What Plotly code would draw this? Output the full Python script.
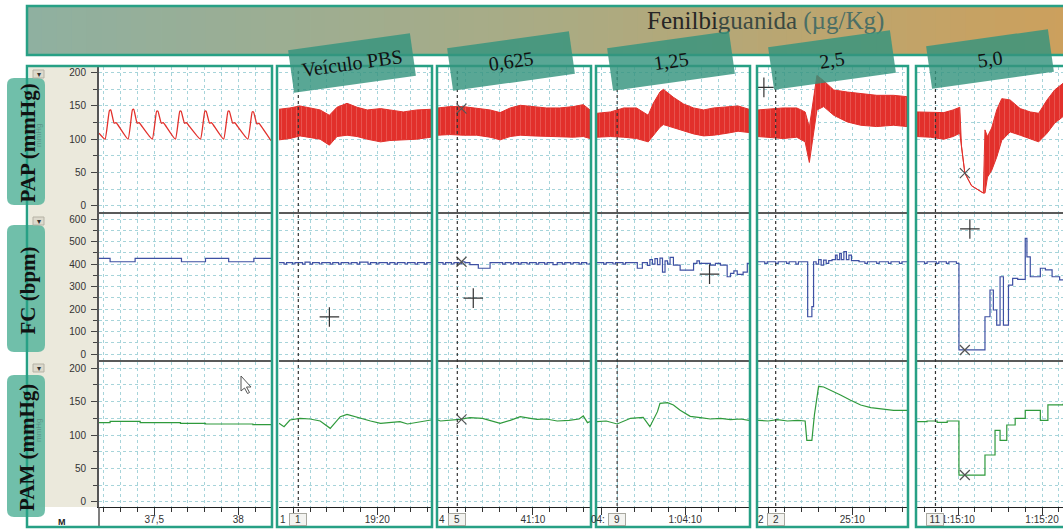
import plotly.graph_objects as go

W, H = 1063, 529

# ---------------- baseline column (time in s) ----------------
PAP0_T = [37.171, 37.207, 37.233, 37.241, 37.261, 37.273, 37.285,
          37.344, 37.370, 37.378, 37.398, 37.410, 37.422,
          37.488, 37.514, 37.522, 37.542, 37.554, 37.566,
          37.626, 37.652, 37.660, 37.680, 37.692, 37.704,
          37.775, 37.801, 37.809, 37.829, 37.841, 37.853,
          37.913, 37.939, 37.947, 37.967, 37.979, 37.991,
          38.057, 38.083, 38.091, 38.111, 38.123, 38.135, 38.195]
PAP0_V = [109, 100, 143, 144, 124, 125, 121,
          100, 144, 145, 124, 125, 121,
          100, 142, 142, 124, 125, 121,
          100, 142, 142, 124, 125, 121,
          100, 142, 142, 124, 125, 121,
          100, 142, 142, 124, 125, 121,
          100, 141, 141, 123, 124, 120, 98]
FC0_T = [37.171, 37.237, 37.386, 37.662, 37.805, 37.943, 38.093, 38.195]
FC0_V = [426, 411, 426, 411, 426, 411, 426, 426]
PAM0_T = [37.171, 37.237, 37.386, 37.416, 37.656, 37.805, 38.087, 38.195]
PAM0_V = [118.5, 120.5, 120.5, 118.5, 117.5, 116.5, 115.5, 115.5]

# ---------------- PAP envelopes (upper / lower) ----------------
PAP1_T = [1148.3, 1149.6, 1150.8, 1152.0, 1153.2, 1154.3, 1155.2, 1156.4, 1157.6, 1158.8, 1160.4, 1161.5, 1163.1, 1164.7, 1166.4]
PAP1_HI = [145, 147, 150, 147, 144, 136, 148, 154, 148, 144, 146, 144, 141, 144, 145]
PAP1_LO = [99, 101, 105, 103, 100, 91, 104, 106, 104, 100, 96, 98, 99, 100, 103]

PAP2_T = [2458.7, 2460.1, 2461.7, 2463.3, 2464.9, 2466.1, 2467.3, 2468.5, 2470.0, 2471.6, 2473.2, 2474.8, 2476.0, 2476.8]
PAP2_HI = [147, 149, 149, 147, 144, 140, 147, 151, 149, 147, 147, 149, 152, 144]
PAP2_LO = [106, 107, 106, 106, 103, 99, 104, 106, 105, 104, 103, 103, 104, 101]

PAP3_T = [3839.5, 3841.1, 3842.7, 3844.2, 3845.6, 3846.2, 3847.0, 3847.4, 3848.6, 3849.8, 3851.0, 3852.2, 3853.4, 3855.0, 3856.3, 3857.6]
PAP3_HI = [139, 141, 147, 147, 136, 154, 171, 175, 163, 153, 147, 144, 147, 149, 150, 145]
PAP3_LO = [103, 104, 103, 101, 96, 106, 118, 122, 117, 112, 108, 105, 106, 109, 112, 110]

PAP4_T = [1498.8, 1500.2, 1501.8, 1503.4, 1504.4, 1504.9, 1505.3, 1505.8, 1506.6, 1507.8, 1509.4, 1511.0, 1512.9, 1514.9, 1516.5]
PAP4_HI = [144, 145, 147, 147, 141, 118, 154, 196, 188, 174, 171, 169, 166, 166, 164]
PAP4_LO = [104, 103, 101, 103, 96, 65, 104, 144, 149, 136, 126, 121, 119, 121, 119]

PAP5_T = [4505.1, 4506.7, 4508.3, 4509.4, 4510.2, 4510.4, 4510.8, 4511.6, 4513.0, 4513.2, 4513.5, 4514.0, 4514.6, 4515.2, 4516.2, 4517.4, 4518.6, 4519.6, 4520.6, 4521.5, 4522.5]
PAP5_HI = [141, 140, 140, 144, 148, 90, 49, 30, 19, 114, 104, 117, 144, 161, 159, 146, 141, 139, 159, 174, 184]
PAP5_LO = [104, 103, 100, 104, 109, 90, 49, 30, 19, 19, 43, 53, 73, 98, 111, 106, 101, 96, 109, 124, 134]

# ---------------- FC (bpm), step traces ----------------
FC1_T = [1148.3, 1148.9, 1149.2, 1149.9, 1150.2, 1151.1, 1151.4, 1152.0, 1152.3, 1153.1, 1153.4, 1154.4,
         1154.7, 1155.4, 1155.7, 1156.6, 1156.9, 1157.6, 1157.9, 1158.9, 1159.2, 1159.9, 1160.2, 1161.2,
         1161.5, 1162.1, 1162.4, 1163.3, 1163.6, 1164.5, 1164.8, 1165.6, 1165.9, 1166.4]
FC1_V = [407, 400, 407, 401, 407, 400, 409, 400, 407, 401, 407, 400,
         407, 400, 407, 401, 407, 400, 409, 400, 407, 401, 407, 400,
         407, 400, 407, 401, 407, 400, 407, 400, 407, 407]

FC2_T = [2458.7, 2459.3, 2459.6, 2460.3, 2460.6, 2461.2, 2461.5, 2461.9, 2462.5, 2463.5, 2464.9, 2466.4,
         2466.7, 2467.4, 2467.7, 2468.3, 2468.6, 2469.3, 2469.6, 2470.4, 2470.7, 2471.4, 2471.7, 2472.4,
         2472.9, 2473.5, 2473.8, 2474.5, 2474.8, 2475.5, 2475.8, 2476.4, 2476.8]
FC2_V = [407, 400, 407, 401, 407, 401, 411, 407, 398, 382, 407, 400,
         407, 401, 407, 400, 407, 401, 407, 400, 407, 400, 407, 398,
         407, 400, 407, 401, 407, 400, 407, 401, 407]

FC3_T = [3839.5, 3840.3, 3840.6, 3841.4, 3841.7, 3842.6, 3842.9, 3844.3, 3844.9, 3845.5, 3845.8, 3846.1,
         3846.4, 3846.7, 3847.0, 3847.3, 3847.6, 3847.9, 3848.2, 3848.6, 3849.4, 3851.0, 3851.4, 3851.7,
         3853.0, 3853.6, 3854.2, 3855.0, 3855.4, 3855.8, 3856.2, 3856.9, 3857.4, 3857.6]
FC3_V = [407, 400, 407, 401, 407, 400, 407, 382, 407, 395, 420, 400,
         425, 398, 427, 365, 415, 400, 430, 396, 374, 404, 415, 404,
         396, 404, 396, 344, 359, 370, 355, 365, 404, 404]

FC4_T = [1498.8, 1499.6, 1499.9, 1500.9, 1501.2, 1502.2, 1502.5, 1503.3, 1503.6, 1504.7, 1505.2, 1505.4,
         1505.7, 1506.0, 1506.3, 1506.6, 1506.9, 1507.2, 1507.6, 1508.0, 1508.2, 1508.5, 1508.7, 1509.0,
         1509.3, 1509.6, 1509.9, 1510.8, 1511.5, 1511.8, 1512.9, 1513.2, 1514.3, 1514.6, 1515.6, 1515.9, 1516.5]
FC4_V = [411, 404, 411, 404, 411, 404, 411, 400, 411, 166, 211, 411,
         400, 420, 396, 418, 404, 416, 420, 440, 420, 448, 420, 456,
         420, 440, 416, 411, 404, 411, 404, 411, 404, 411, 404, 411, 411]

FC5_T = [4505.1, 4506.0, 4506.3, 4507.4, 4507.7, 4508.6, 4508.9, 4509.8, 4510.1, 4513.2, 4513.8, 4514.2,
         4514.6, 4515.0, 4515.4, 4516.0, 4516.5, 4517.1, 4518.0, 4518.2, 4518.6, 4519.8, 4520.4, 4521.2,
         4522.1, 4522.5]
FC5_V = [411, 404, 411, 404, 411, 404, 411, 404, 18, 166, 285, 196,
         129, 344, 129, 307, 337, 332, 515, 433, 344, 382, 375, 344,
         330, 330]

# ---------------- PAM (mmHg) ----------------
PAM1_T = [1148.3, 1148.9, 1149.6, 1150.8, 1152.0, 1153.2, 1154.4, 1155.6, 1156.4, 1157.2, 1158.0, 1159.2,
          1160.4, 1161.5, 1162.7, 1163.6, 1164.9, 1166.4]
PAM1_V = [117.5, 112.5, 122.5, 125, 124, 121, 110, 127.5, 131, 128, 125, 121,
          117.5, 119, 120, 116.5, 119, 122.5]
PAM2_T = [2458.7, 2459.0, 2461.3, 2462.5, 2464.0, 2465.0, 2466.1, 2467.3, 2468.5, 2469.7, 2470.5, 2471.6,
          2472.9, 2474.3, 2475.5, 2476.0, 2476.5, 2476.8]
PAM2_V = [122.5, 121, 123.5, 126, 125, 121, 117.5, 122, 127.5, 125, 123.5, 124,
          121, 122, 124, 128.5, 118.5, 120]
PAM3_T = [3839.5, 3840.6, 3841.9, 3843.5, 3845.0, 3845.8, 3846.7, 3847.0, 3847.9, 3848.6, 3849.4, 3850.6,
          3851.8, 3853.0, 3854.2, 3855.4, 3856.6, 3857.6]
PAM3_V = [120, 121, 116.5, 125, 126.5, 112.5, 135, 147.5, 148.5, 145, 137, 128,
          126, 124, 125, 123, 124, 122]
PAM4_T = [1498.8, 1500.0, 1501.1, 1502.3, 1503.5, 1504.4, 1504.6, 1505.2, 1505.5, 1505.8, 1506.0, 1506.6,
          1507.7, 1508.6, 1509.8, 1511.0, 1512.2, 1513.4, 1514.9, 1516.5]
PAM4_V = [122, 121, 123, 121, 122, 121, 92, 92, 130, 160, 173, 172,
          166, 160, 152, 145, 141, 139, 137, 137]
PAM5_T = [4505.1, 4506.3, 4507.5, 4508.7, 4510.1, 4513.2, 4514.4, 4515.0, 4515.8, 4516.8, 4518.0, 4519.8,
          4520.7, 4522.5]
PAM5_V = [120, 121, 119, 121, 40, 70, 107, 92, 115, 125, 137, 122, 145, 147]

# ---------------- labels, ticks, events ----------------
DOSES = ["Veículo PBS", "0,625", "1,25", "2,5", "5,0"]
ROW_TITLES = ["PAP (mmHg)", "FC (bpm)", "PAM (mmHg)"]
TICK_T = [None, [1150, 1160], [2460, 2470], [3840, 3850], [1500, 1510], [4510, 4520]]
TICK_TXT = [None, ["", "19:20"], ["", "41:10"], ["", "1:04:10"], ["", "25:10"], ["1:15:10", "1:15:20"]]
EVENT_T = [None, 1150.6, 2461.0, 3841.9, 1500.9, 4507.3]
EVENT_ID = [None, "1", "5", "9", "2", "11"]
EVENT_PREFIX = [None, "1", "4", "04:", "2", ""]
# cursor marks: (column, row, time, value)
PLUS_MARKS = [(1, 1, 1154.3, 165), (2, 1, 2462.9, 249), (3, 1, 3852.9, 356),
              (4, 0, 1499.5, 178), (5, 1, 4511.4, 557)]
X_MARKS = [(2, 0, 2461.5, 146), (2, 1, 2461.5, 411), (2, 2, 2461.5, 123.5),
           (5, 0, 4510.8, 49), (5, 1, 4510.8, 18), (5, 2, 4510.8, 40)]

# ---------------- geometry (pixels) ----------------
COL_PX = [(99, 271), (279, 431), (438, 590), (597, 749), (758, 907), (917, 1063)]
COL_T = [(37.171, 38.195), (1148.3, 1166.4), (2458.7, 2476.8), (3839.5, 3857.6),
         (1498.8, 1516.5), (4505.1, 4522.5)]
ROW_PX = [(67, 212), (214, 360), (362, 507)]
ROW_V = [(-9.5, 208.6), (-26.7, 623.6), (-7.9, 209.4)]
ROW_DTICK = [(50, 25), (100, 50), (50, 25)]
BOX_PX = [(27, 66, 272, 527), (277, 66, 432, 527), (437, 66, 591, 527),
          (596, 66, 750, 527), (757, 66, 908, 527), (916, 66, 1070, 527)]

RED, BLUE, GREEN = "#e2302b", "#3e50a3", "#2f9a3c"
TEAL = "#27a085"
GRID = "#a6d4da"


def X(p):
    return p / W


def Y(p):
    return 1 - p / H


def ax_ids(r, c):
    k = r * 6 + c + 1
    s = "" if k == 1 else str(k)
    return "x" + s, "y" + s, s


PAP_T = [None, PAP1_T, PAP2_T, PAP3_T, PAP4_T, PAP5_T]
PAP_HI = [None, PAP1_HI, PAP2_HI, PAP3_HI, PAP4_HI, PAP5_HI]
PAP_LO = [None, PAP1_LO, PAP2_LO, PAP3_LO, PAP4_LO, PAP5_LO]
FC_T = [FC0_T, FC1_T, FC2_T, FC3_T, FC4_T, FC5_T]
FC_V = [FC0_V, FC1_V, FC2_V, FC3_V, FC4_V, FC5_V]
PAM_T = [PAM0_T, PAM1_T, PAM2_T, PAM3_T, PAM4_T, PAM5_T]
PAM_V = [PAM0_V, PAM1_V, PAM2_V, PAM3_V, PAM4_V, PAM5_V]

fig = go.Figure()

for c in range(6):
    xa, ya, _ = ax_ids(0, c)
    if c == 0:
        fig.add_trace(go.Scatter(x=PAP0_T, y=PAP0_V, mode="lines",
                                 line=dict(color=RED, width=1.3, shape="spline", smoothing=0.4),
                                 xaxis=xa, yaxis=ya))
    else:
        fig.add_trace(go.Scatter(x=PAP_T[c], y=PAP_LO[c], mode="lines", line=dict(color=RED, width=1),
                                 xaxis=xa, yaxis=ya))
        # dense pulse band: filled envelope with faint beat striations
        fig.add_trace(go.Scatter(x=PAP_T[c], y=PAP_HI[c], mode="lines", line=dict(color=RED, width=1),
                                 fill="tonexty", fillcolor=RED,
                                 fillpattern=dict(shape="|", bgcolor=RED, fgcolor="rgba(255,205,200,0.75)",
                                                  size=5, solidity=0.12),
                                 xaxis=xa, yaxis=ya))
    xa, ya, _ = ax_ids(1, c)
    fig.add_trace(go.Scatter(x=FC_T[c], y=FC_V[c], mode="lines", line=dict(color=BLUE, width=1.2, shape="hv"),
                             xaxis=xa, yaxis=ya))
    xa, ya, _ = ax_ids(2, c)
    shape = "hv" if c in (0, 5) else "linear"
    fig.add_trace(go.Scatter(x=PAM_T[c], y=PAM_V[c], mode="lines", line=dict(color=GREEN, width=1.2, shape=shape),
                             xaxis=xa, yaxis=ya))

for (c, r, t, v) in PLUS_MARKS:
    xa, ya, _ = ax_ids(r, c)
    fig.add_trace(go.Scatter(x=[t], y=[v], mode="markers", xaxis=xa, yaxis=ya,
                             marker=dict(symbol="cross-thin", size=14, line=dict(width=1.2, color="#333"))))
for (c, r, t, v) in X_MARKS:
    xa, ya, _ = ax_ids(r, c)
    fig.add_trace(go.Scatter(x=[t], y=[v], mode="markers", xaxis=xa, yaxis=ya,
                             marker=dict(symbol="x-thin", size=10, line=dict(width=1.2, color="#555"))))

layout = dict(width=W, height=H, margin=dict(l=0, r=0, t=0, b=0), autosize=False,
              showlegend=False, paper_bgcolor="white", plot_bgcolor="white",
              separators=", ", hovermode=False)

for r in range(3):
    for c in range(6):
        xa_id, ya_id, s = ax_ids(r, c)
        xa = dict(domain=[X(COL_PX[c][0]), X(COL_PX[c][1])], range=list(COL_T[c]), anchor=ya_id,
                  showgrid=True, gridcolor=GRID, griddash="dot", gridwidth=1, zeroline=False,
                  fixedrange=True)
        mx = dict(showgrid=True, gridcolor=GRID, griddash="dot", gridwidth=1)
        if c == 0:
            xa.update(tickmode="linear", tick0=37.5, dtick=0.5)
            mx.update(tick0=37.5, dtick=0.1)
        else:
            xa.update(tickmode="array", tickvals=TICK_T[c], ticktext=TICK_TXT[c])
            mx.update(tickmode="linear", tick0=0, dtick=2)
        if r == 2:
            xa.update(ticks="outside", ticklen=7, tickwidth=1, tickcolor="#333", showticklabels=True,
                      tickfont=dict(family="Liberation Sans", size=10, color="#333"),
                      ticklabelstandoff=-4,
                      showline=True, linecolor="#222", linewidth=1)
            mx.update(ticks="outside", ticklen=4, tickwidth=1, tickcolor="#333")
        else:
            xa.update(ticks="", showticklabels=False)
        xa["minor"] = mx
        layout["xaxis" + s] = xa

        ya = dict(domain=[Y(ROW_PX[r][1]), Y(ROW_PX[r][0])], range=list(ROW_V[r]), anchor=xa_id,
                  tickmode="linear", tick0=0, dtick=ROW_DTICK[r][0],
                  showgrid=True, gridcolor=GRID, griddash="dot", gridwidth=1, zeroline=False,
                  fixedrange=True)
        my = dict(tick0=0, dtick=ROW_DTICK[r][1], showgrid=True, gridcolor=GRID, griddash="dot", gridwidth=1)
        if c == 0:
            ya.update(ticks="outside", ticklen=6, tickwidth=1, tickcolor="#444", showticklabels=True,
                      tickfont=dict(family="Liberation Sans", size=10, color="#333"),
                      ticklabelstandoff=3,
                      showline=True, linecolor="#555", linewidth=2)
            my.update(ticks="outside", ticklen=4, tickwidth=1, tickcolor="#444")
        else:
            ya.update(ticks="", showticklabels=False)
        ya["minor"] = my
        layout["yaxis" + s] = ya

shapes = []

# gradient banner
stops = [(0.0, (143, 176, 160)), (0.5, (170, 171, 132)), (1.0, (204, 160, 92))]


def grad(f):
    for (f0, c0), (f1, c1) in zip(stops[:-1], stops[1:]):
        if f0 <= f <= f1:
            u = (f - f0) / (f1 - f0)
            return "rgb(%d,%d,%d)" % tuple(round(a + (b - a) * u) for a, b in zip(c0, c1))
    return "rgb(%d,%d,%d)" % stops[-1][1]


bx0, bx1 = 27, 1070
n = 70
for i in range(n):
    a = bx0 + (bx1 - bx0) * i / n
    b = bx0 + (bx1 - bx0) * (i + 1) / n + 0.8
    shapes.append(dict(type="rect", xref="paper", yref="paper", x0=X(a), x1=X(b), y0=Y(55), y1=Y(6),
                       fillcolor=grad((i + 0.5) / n), line=dict(width=0), layer="above"))
shapes.append(dict(type="rect", xref="paper", yref="paper", x0=X(27), x1=X(1070), y0=Y(55), y1=Y(6),
                   line=dict(color=TEAL, width=2.5), layer="above"))

# label strip of the baseline column (beneath the tick labels)
shapes.append(dict(type="rect", xref="paper", yref="paper", x0=X(29), x1=X(97), y0=Y(507), y1=Y(67),
                   fillcolor="#ebe9dc", line=dict(width=0), layer="below"))


def rrect(x0, y0, x1, y1, rad):
    return (f"M {X(x0 + rad)},{Y(y0)} L {X(x1 - rad)},{Y(y0)} Q {X(x1)},{Y(y0)} {X(x1)},{Y(y0 + rad)} "
            f"L {X(x1)},{Y(y1 - rad)} Q {X(x1)},{Y(y1)} {X(x1 - rad)},{Y(y1)} "
            f"L {X(x0 + rad)},{Y(y1)} Q {X(x0)},{Y(y1)} {X(x0)},{Y(y1 - rad)} "
            f"L {X(x0)},{Y(y0 + rad)} Q {X(x0)},{Y(y0)} {X(x0 + rad)},{Y(y0)} Z")


BADGES = [(7, 78, 45, 205), (7, 225, 45, 352), (7, 375, 45, 517)]
for (x0, y0, x1, y1) in BADGES:
    shapes.append(dict(type="path", xref="paper", yref="paper", path=rrect(x0, y0, x1, y1, 7),
                       fillcolor="rgba(92,182,158,0.88)", line=dict(width=0), layer="above"))

# small channel menu buttons
for yb in (70, 217, 364):
    shapes.append(dict(type="rect", xref="paper", yref="paper", x0=X(33), x1=X(44), y0=Y(yb + 8), y1=Y(yb),
                       fillcolor="#dcd9cc", line=dict(color="#b5b2a5", width=1), layer="above"))

# row separators
for c in range(6):
    xl = 97 if c == 0 else COL_PX[c][0]
    for yy in (213, 361):
        shapes.append(dict(type="line", xref="paper", yref="paper", x0=X(xl), x1=X(COL_PX[c][1]),
                           y0=Y(yy), y1=Y(yy), line=dict(color="#5a5a5a", width=2), layer="above"))
shapes.append(dict(type="line", xref="paper", yref="paper", x0=X(99), x1=X(99), y0=Y(527), y1=Y(507),
                   line=dict(color="#555", width=1.5), layer="above"))

# injection markers
for c in range(1, 6):
    xa_id, _, _ = ax_ids(0, c)
    shapes.append(dict(type="line", xref=xa_id, yref="paper", x0=EVENT_T[c], x1=EVENT_T[c],
                       y0=Y(512), y1=Y(68), line=dict(color="#333", width=1.2, dash="dot"), layer="above"))

# mouse pointer
ptr = [(241, 376), (241, 391), (244.5, 388), (247.5, 393.5), (249.5, 392.5), (246.5, 387), (251, 387)]
shapes.append(dict(type="path", xref="paper", yref="paper",
                   path="M " + " L ".join(f"{X(a)},{Y(b)}" for a, b in ptr) + " Z",
                   fillcolor="white", line=dict(color="#555", width=1), layer="above"))

# panel frames
for (x0, y0, x1, y1) in BOX_PX:
    shapes.append(dict(type="rect", xref="paper", yref="paper", x0=X(x0), x1=X(x1), y0=Y(y1), y1=Y(y0),
                       line=dict(color=TEAL, width=2.5), fillcolor="rgba(0,0,0,0)", layer="above"))

layout["shapes"] = shapes

ann = []
ann.append(dict(x=X(765), y=Y(21), xref="paper", yref="paper", showarrow=False,
                text="<span style='color:#262626'>Fenilbi</span><span style='color:#3b4a42'>guanida </span>"
                     "<span style='color:#4b6f66'>(µg/Kg)</span>",
                font=dict(family="Liberation Serif", size=25)))

TAB_XY = [(352, 63), (511, 61), (671, 61), (832, 60), (990, 59)]
for (cx, cy), txt in zip(TAB_XY, DOSES):
    ann.append(dict(x=X(cx), y=Y(cy), xref="paper", yref="paper", showarrow=False, text=txt,
                    textangle=-8, width=120, height=40, bgcolor="rgba(52,148,126,0.82)",
                    font=dict(family="Liberation Serif", size=20, color="#111")))

for (x0, y0, x1, y1), ttl in zip(BADGES, ROW_TITLES):
    ann.append(dict(x=X(27), y=Y((y0 + y1) / 2 + 2), xref="paper", yref="paper", showarrow=False,
                    text="<b>" + ttl + "</b>", textangle=-90,
                    font=dict(family="Liberation Serif", size=21, color="#111")))
for yc in (135, 430):
    ann.append(dict(x=X(38), y=Y(yc), xref="paper", yref="paper", showarrow=False, text="mmHg",
                    textangle=-90, font=dict(family="Liberation Sans", size=8, color="#5d9488")))
for yb in (70, 217, 364):
    ann.append(dict(x=X(38.5), y=Y(yb + 4), xref="paper", yref="paper", showarrow=False, text="▾",
                    font=dict(family="DejaVu Sans", size=8, color="#333")))

ann.append(dict(x=X(62), y=Y(522), xref="paper", yref="paper", showarrow=False, text="<b>M</b>",
                font=dict(family="Liberation Sans", size=9, color="#222")))

for c in range(1, 6):
    xa_id, ya_id, _ = ax_ids(2, c)
    ann.append(dict(x=EVENT_T[c], y=Y(519), xref=xa_id, yref="paper", showarrow=False,
                    text=EVENT_ID[c], bgcolor="#f3f3f0", bordercolor="#a8a8a0", borderwidth=1,
                    width=16, height=11, borderpad=0,
                    font=dict(family="Liberation Sans", size=10, color="#333")))
    if EVENT_PREFIX[c]:
        ann.append(dict(x=EVENT_T[c], y=Y(519), xref=xa_id, yref="paper", showarrow=False,
                        text=EVENT_PREFIX[c], xanchor="right", xshift=-10,
                        font=dict(family="Liberation Sans", size=10, color="#333")))

for a in ann:
    a.setdefault("xanchor", "center")
    a.setdefault("yanchor", "middle")

layout["annotations"] = ann
fig.update_layout(**layout)
fig.write_html("out.html")
